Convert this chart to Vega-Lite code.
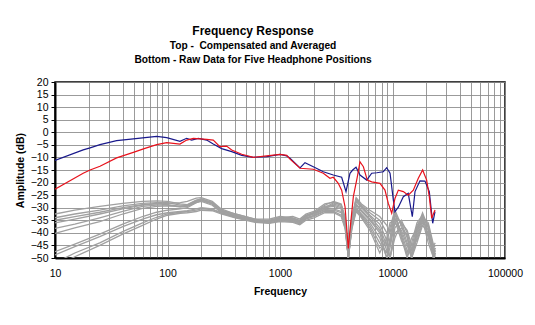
{
"$schema":"https://vega.github.io/schema/vega-lite/v6.json",
"width":450,"height":176,
"autosize":{"type":"none"},
"padding":{"left":55,"top":82,"right":30,"bottom":67},
"background":"white",
"title":{"text":"Frequency Response","subtitle":["Top -\u00a0 Compensated and Averaged","Bottom - Raw Data for Five Headphone Positions"],"anchor":"middle","dx":-27,"offset":11,"font":"Liberation Sans","fontSize":12,"fontWeight":"bold","color":"#000","subtitleFont":"Liberation Sans","subtitleFontSize":10.2,"subtitleFontWeight":"bold","subtitleColor":"#000","subtitleLineHeight":14,"subtitlePadding":3},
"config":{"view":{"stroke":"#000","strokeWidth":1.5},"axis":{"labelFont":"Liberation Sans","titleFont":"Liberation Sans","labelColor":"#000","titleColor":"#000","gridColor":"#8a8a8a","gridWidth":1,"gridOpacity":0.85,"domainColor":"#000","domainWidth":2,"tickColor":"#000","labelFontSize":10.5,"titleFontSize":10.5,"titleFontWeight":"bold"}},
"data":{"values":[
{"s":"blue","f":10,"db":-11.2},{"s":"blue","f":17.8,"db":-7.0},{"s":"blue","f":20.5,"db":-6.2},{"s":"blue","f":25.1,"db":-4.9},{"s":"blue","f":35.3,"db":-3.35},{"s":"blue","f":49.7,"db":-2.6},{"s":"blue","f":63,"db":-2.1},{"s":"blue","f":80.2,"db":-1.6},{"s":"blue","f":98.4,"db":-2.15},{"s":"blue","f":129,"db":-3.6},{"s":"blue","f":148,"db":-2.4},{"s":"blue","f":164,"db":-3.1},{"s":"blue","f":188,"db":-2.4},{"s":"blue","f":223,"db":-3.1},{"s":"blue","f":255,"db":-4.7},{"s":"blue","f":303,"db":-6.5},{"s":"blue","f":372,"db":-7.7},{"s":"blue","f":457,"db":-9.2},{"s":"blue","f":580,"db":-9.95},{"s":"blue","f":762,"db":-9.7},{"s":"blue","f":1000,"db":-8.8},{"s":"blue","f":1148,"db":-9.4},{"s":"blue","f":1227,"db":-10.35},{"s":"blue","f":1507,"db":-14.2},{"s":"blue","f":1668,"db":-12.1},{"s":"blue","f":1977,"db":-13.7},{"s":"blue","f":2427,"db":-15.7},{"s":"blue","f":2978,"db":-17.0},{"s":"blue","f":3533,"db":-17.9},{"s":"blue","f":3861,"db":-23.6},{"s":"blue","f":4188,"db":-16.3},{"s":"blue","f":4426,"db":-15.0},{"s":"blue","f":4740,"db":-13.9},{"s":"blue","f":5140,"db":-17.0},{"s":"blue","f":5900,"db":-19.0},{"s":"blue","f":6535,"db":-16.3},{"s":"blue","f":7244,"db":-16.1},{"s":"blue","f":8285,"db":-15.7},{"s":"blue","f":8880,"db":-14.1},{"s":"blue","f":9510,"db":-16.3},{"s":"blue","f":10170,"db":-26.9},{"s":"blue","f":10520,"db":-31.6},{"s":"blue","f":11270,"db":-29.8},{"s":"blue","f":12480,"db":-25.6},{"s":"blue","f":13800,"db":-24.3},{"s":"blue","f":15000,"db":-33.6},{"s":"blue","f":15850,"db":-23.6},{"s":"blue","f":17540,"db":-19.3},{"s":"blue","f":19430,"db":-19.4},{"s":"blue","f":21240,"db":-23.6},{"s":"blue","f":22760,"db":-36.2},{"s":"blue","f":23870,"db":-31.6},
{"s":"red","f":10,"db":-22.6},{"s":"red","f":17.8,"db":-16.3},{"s":"red","f":20.5,"db":-15.0},{"s":"red","f":25.1,"db":-13.5},{"s":"red","f":35.3,"db":-10.2},{"s":"red","f":49.7,"db":-8.0},{"s":"red","f":63,"db":-6.4},{"s":"red","f":80.2,"db":-4.9},{"s":"red","f":98.4,"db":-4.15},{"s":"red","f":129,"db":-4.7},{"s":"red","f":148,"db":-3.1},{"s":"red","f":170,"db":-2.4},{"s":"red","f":223,"db":-2.8},{"s":"red","f":255,"db":-3.1},{"s":"red","f":292,"db":-5.7},{"s":"red","f":335,"db":-5.5},{"s":"red","f":372,"db":-7.05},{"s":"red","f":457,"db":-8.75},{"s":"red","f":580,"db":-9.95},{"s":"red","f":762,"db":-9.4},{"s":"red","f":1000,"db":-8.75},{"s":"red","f":1148,"db":-9.2},{"s":"red","f":1227,"db":-10.7},{"s":"red","f":1507,"db":-14.3},{"s":"red","f":1977,"db":-14.7},{"s":"red","f":2427,"db":-16.3},{"s":"red","f":2780,"db":-18.3},{"s":"red","f":2978,"db":-17.9},{"s":"red","f":3296,"db":-20.3},{"s":"red","f":3533,"db":-23.0},{"s":"red","f":3785,"db":-29.6},{"s":"red","f":4047,"db":-46.2},{"s":"red","f":4188,"db":-38.9},{"s":"red","f":4487,"db":-25.6},{"s":"red","f":4867,"db":-17.7},{"s":"red","f":5140,"db":-11.7},{"s":"red","f":5510,"db":-13.7},{"s":"red","f":5970,"db":-19.0},{"s":"red","f":6535,"db":-19.7},{"s":"red","f":7740,"db":-20.3},{"s":"red","f":8570,"db":-23.0},{"s":"red","f":9180,"db":-28.3},{"s":"red","f":9840,"db":-32.2},{"s":"red","f":10520,"db":-26.3},{"s":"red","f":11270,"db":-23.0},{"s":"red","f":12480,"db":-23.6},{"s":"red","f":13800,"db":-25.0},{"s":"red","f":15310,"db":-23.0},{"s":"red","f":16960,"db":-18.3},{"s":"red","f":18530,"db":-15.0},{"s":"red","f":20120,"db":-19.0},{"s":"red","f":21240,"db":-25.6},{"s":"red","f":22300,"db":-34.2},{"s":"red","f":23870,"db":-30.9},
{"s":"g1","f":10,"db":-32.5},{"s":"g1","f":15,"db":-31},{"s":"g1","f":25,"db":-29.5},{"s":"g1","f":40,"db":-28.3},{"s":"g1","f":60,"db":-27.5},{"s":"g1","f":80,"db":-27.3},{"s":"g1","f":100,"db":-27.5},{"s":"g1","f":130,"db":-28.5},{"s":"g1","f":150,"db":-28.8},{"s":"g1","f":180,"db":-27},{"s":"g1","f":200,"db":-26.5},{"s":"g1","f":250,"db":-28},{"s":"g1","f":300,"db":-31},{"s":"g1","f":400,"db":-32.5},{"s":"g1","f":600,"db":-34.5},{"s":"g1","f":800,"db":-34.5},{"s":"g1","f":1000,"db":-33.5},{"s":"g1","f":1300,"db":-34},{"s":"g1","f":1500,"db":-35},{"s":"g1","f":1700,"db":-33},{"s":"g1","f":2000,"db":-32},{"s":"g1","f":2500,"db":-29},{"s":"g1","f":3000,"db":-27.5},{"s":"g1","f":3500,"db":-28.5},{"s":"g1","f":3800,"db":-34},{"s":"g1","f":4050,"db":-49},{"s":"g1","f":4350,"db":-34},{"s":"g1","f":4750,"db":-26},{"s":"g1","f":5300,"db":-28.5},{"s":"g1","f":6300,"db":-31},{"s":"g1","f":7700,"db":-33.5},{"s":"g1","f":8900,"db":-37},{"s":"g1","f":9500,"db":-40},{"s":"g1","f":10500,"db":-31},{"s":"g1","f":12000,"db":-37},{"s":"g1","f":13500,"db":-44},{"s":"g1","f":14800,"db":-49},{"s":"g1","f":16500,"db":-38},{"s":"g1","f":18500,"db":-32},{"s":"g1","f":20800,"db":-38},{"s":"g1","f":23200,"db":-48},{"s":"g1","f":24000,"db":-46},
{"s":"g2","f":10,"db":-34},{"s":"g2","f":15,"db":-32.5},{"s":"g2","f":25,"db":-31},{"s":"g2","f":40,"db":-29.3},{"s":"g2","f":60,"db":-28.3},{"s":"g2","f":80,"db":-28},{"s":"g2","f":100,"db":-28},{"s":"g2","f":130,"db":-29},{"s":"g2","f":150,"db":-29},{"s":"g2","f":180,"db":-27.5},{"s":"g2","f":200,"db":-27},{"s":"g2","f":250,"db":-28.5},{"s":"g2","f":300,"db":-31.5},{"s":"g2","f":400,"db":-33},{"s":"g2","f":600,"db":-35},{"s":"g2","f":800,"db":-35},{"s":"g2","f":1000,"db":-34},{"s":"g2","f":1300,"db":-34.5},{"s":"g2","f":1500,"db":-35.5},{"s":"g2","f":1700,"db":-33.5},{"s":"g2","f":2000,"db":-32.5},{"s":"g2","f":2500,"db":-30},{"s":"g2","f":3000,"db":-28},{"s":"g2","f":3500,"db":-29},{"s":"g2","f":3800,"db":-35},{"s":"g2","f":4050,"db":-50},{"s":"g2","f":4350,"db":-35},{"s":"g2","f":4750,"db":-26.5},{"s":"g2","f":5300,"db":-29},{"s":"g2","f":6300,"db":-32},{"s":"g2","f":7700,"db":-35},{"s":"g2","f":8900,"db":-40},{"s":"g2","f":9500,"db":-45},{"s":"g2","f":10500,"db":-33},{"s":"g2","f":12000,"db":-36},{"s":"g2","f":13500,"db":-42},{"s":"g2","f":14800,"db":-50},{"s":"g2","f":16500,"db":-40},{"s":"g2","f":18500,"db":-33},{"s":"g2","f":20800,"db":-37},{"s":"g2","f":23200,"db":-50},{"s":"g2","f":24000,"db":-47},
{"s":"g3","f":10,"db":-35},{"s":"g3","f":15,"db":-33.5},{"s":"g3","f":25,"db":-31.8},{"s":"g3","f":40,"db":-30},{"s":"g3","f":60,"db":-28.8},{"s":"g3","f":80,"db":-28.3},{"s":"g3","f":100,"db":-28.3},{"s":"g3","f":130,"db":-28},{"s":"g3","f":150,"db":-27.5},{"s":"g3","f":180,"db":-26.2},{"s":"g3","f":200,"db":-26},{"s":"g3","f":250,"db":-27.5},{"s":"g3","f":300,"db":-30.5},{"s":"g3","f":400,"db":-32.5},{"s":"g3","f":600,"db":-34.5},{"s":"g3","f":800,"db":-35.5},{"s":"g3","f":1000,"db":-34},{"s":"g3","f":1300,"db":-33.5},{"s":"g3","f":1500,"db":-34.5},{"s":"g3","f":1700,"db":-32.5},{"s":"g3","f":2000,"db":-31.5},{"s":"g3","f":2500,"db":-28.5},{"s":"g3","f":3000,"db":-27.8},{"s":"g3","f":3500,"db":-28.8},{"s":"g3","f":3800,"db":-34.5},{"s":"g3","f":4050,"db":-48},{"s":"g3","f":4350,"db":-33.5},{"s":"g3","f":4750,"db":-27},{"s":"g3","f":5300,"db":-29.5},{"s":"g3","f":6300,"db":-33},{"s":"g3","f":7700,"db":-36.5},{"s":"g3","f":8900,"db":-43},{"s":"g3","f":9500,"db":-50},{"s":"g3","f":10500,"db":-38},{"s":"g3","f":12000,"db":-35},{"s":"g3","f":13500,"db":-40},{"s":"g3","f":14800,"db":-47},{"s":"g3","f":16500,"db":-41},{"s":"g3","f":18500,"db":-34},{"s":"g3","f":20800,"db":-36},{"s":"g3","f":23200,"db":-45},{"s":"g3","f":24000,"db":-44},
{"s":"g4","f":10,"db":-36},{"s":"g4","f":15,"db":-34.5},{"s":"g4","f":25,"db":-32.5},{"s":"g4","f":40,"db":-30.5},{"s":"g4","f":60,"db":-29},{"s":"g4","f":80,"db":-28.5},{"s":"g4","f":100,"db":-28.8},{"s":"g4","f":130,"db":-29.5},{"s":"g4","f":150,"db":-29.5},{"s":"g4","f":180,"db":-28},{"s":"g4","f":200,"db":-27.5},{"s":"g4","f":250,"db":-29},{"s":"g4","f":300,"db":-32},{"s":"g4","f":400,"db":-33.5},{"s":"g4","f":600,"db":-35.5},{"s":"g4","f":800,"db":-35.5},{"s":"g4","f":1000,"db":-34.5},{"s":"g4","f":1300,"db":-34.8},{"s":"g4","f":1500,"db":-36},{"s":"g4","f":1700,"db":-34},{"s":"g4","f":2000,"db":-33},{"s":"g4","f":2500,"db":-30.5},{"s":"g4","f":3000,"db":-28.5},{"s":"g4","f":3500,"db":-29.5},{"s":"g4","f":3800,"db":-35.5},{"s":"g4","f":4050,"db":-50},{"s":"g4","f":4350,"db":-35.5},{"s":"g4","f":4750,"db":-27.5},{"s":"g4","f":5300,"db":-30},{"s":"g4","f":6300,"db":-33.5},{"s":"g4","f":7700,"db":-38},{"s":"g4","f":8900,"db":-45},{"s":"g4","f":9500,"db":-50},{"s":"g4","f":10500,"db":-40},{"s":"g4","f":12000,"db":-38},{"s":"g4","f":13500,"db":-41},{"s":"g4","f":14800,"db":-50},{"s":"g4","f":16500,"db":-42},{"s":"g4","f":18500,"db":-35},{"s":"g4","f":20800,"db":-39},{"s":"g4","f":23200,"db":-50},{"s":"g4","f":24000,"db":-48},
{"s":"g5","f":10,"db":-38.2},{"s":"g5","f":15,"db":-36.5},{"s":"g5","f":25,"db":-34},{"s":"g5","f":40,"db":-31.5},{"s":"g5","f":60,"db":-29.5},{"s":"g5","f":80,"db":-29},{"s":"g5","f":100,"db":-29},{"s":"g5","f":130,"db":-29.8},{"s":"g5","f":150,"db":-29.5},{"s":"g5","f":180,"db":-27.5},{"s":"g5","f":200,"db":-26.8},{"s":"g5","f":250,"db":-28.5},{"s":"g5","f":300,"db":-31.5},{"s":"g5","f":400,"db":-33},{"s":"g5","f":600,"db":-35},{"s":"g5","f":800,"db":-35},{"s":"g5","f":1000,"db":-34},{"s":"g5","f":1300,"db":-34.2},{"s":"g5","f":1500,"db":-35.2},{"s":"g5","f":1700,"db":-33},{"s":"g5","f":2000,"db":-32},{"s":"g5","f":2500,"db":-29.5},{"s":"g5","f":3000,"db":-29},{"s":"g5","f":3500,"db":-30},{"s":"g5","f":3800,"db":-36},{"s":"g5","f":4050,"db":-50},{"s":"g5","f":4350,"db":-36},{"s":"g5","f":4750,"db":-28.5},{"s":"g5","f":5300,"db":-31},{"s":"g5","f":6300,"db":-34.5},{"s":"g5","f":7700,"db":-39},{"s":"g5","f":8900,"db":-47},{"s":"g5","f":9500,"db":-50},{"s":"g5","f":10500,"db":-42},{"s":"g5","f":12000,"db":-36},{"s":"g5","f":13500,"db":-39},{"s":"g5","f":14800,"db":-45},{"s":"g5","f":16500,"db":-43},{"s":"g5","f":18500,"db":-36},{"s":"g5","f":20800,"db":-37},{"s":"g5","f":23200,"db":-46},{"s":"g5","f":24000,"db":-45},
{"s":"g6","f":10,"db":-40.2},{"s":"g6","f":15,"db":-38},{"s":"g6","f":25,"db":-35.5},{"s":"g6","f":40,"db":-32.5},{"s":"g6","f":60,"db":-30.3},{"s":"g6","f":80,"db":-29.5},{"s":"g6","f":100,"db":-29.3},{"s":"g6","f":130,"db":-29.5},{"s":"g6","f":150,"db":-29},{"s":"g6","f":180,"db":-27.2},{"s":"g6","f":200,"db":-26.5},{"s":"g6","f":250,"db":-28},{"s":"g6","f":300,"db":-31},{"s":"g6","f":400,"db":-33},{"s":"g6","f":600,"db":-35},{"s":"g6","f":800,"db":-35.5},{"s":"g6","f":1000,"db":-34.2},{"s":"g6","f":1300,"db":-34.5},{"s":"g6","f":1500,"db":-35.5},{"s":"g6","f":1700,"db":-33.2},{"s":"g6","f":2000,"db":-32.2},{"s":"g6","f":2500,"db":-30},{"s":"g6","f":3000,"db":-29.5},{"s":"g6","f":3500,"db":-30.5},{"s":"g6","f":3800,"db":-36.5},{"s":"g6","f":4050,"db":-50},{"s":"g6","f":4350,"db":-36.5},{"s":"g6","f":4750,"db":-29},{"s":"g6","f":5300,"db":-31.5},{"s":"g6","f":6300,"db":-35},{"s":"g6","f":7700,"db":-40},{"s":"g6","f":8900,"db":-50},{"s":"g6","f":9500,"db":-46},{"s":"g6","f":10500,"db":-36},{"s":"g6","f":12000,"db":-39},{"s":"g6","f":13500,"db":-45},{"s":"g6","f":14800,"db":-50},{"s":"g6","f":16500,"db":-44},{"s":"g6","f":18500,"db":-37},{"s":"g6","f":20800,"db":-40},{"s":"g6","f":23200,"db":-50},{"s":"g6","f":24000,"db":-49},
{"s":"g7","f":10,"db":-47.5},{"s":"g7","f":15,"db":-44.5},{"s":"g7","f":25,"db":-40.5},{"s":"g7","f":40,"db":-36.5},{"s":"g7","f":60,"db":-33.5},{"s":"g7","f":80,"db":-31.8},{"s":"g7","f":100,"db":-31},{"s":"g7","f":130,"db":-30.5},{"s":"g7","f":150,"db":-30},{"s":"g7","f":180,"db":-28},{"s":"g7","f":200,"db":-27.2},{"s":"g7","f":250,"db":-28.5},{"s":"g7","f":300,"db":-31.2},{"s":"g7","f":400,"db":-33.2},{"s":"g7","f":600,"db":-35.2},{"s":"g7","f":800,"db":-35.5},{"s":"g7","f":1000,"db":-34.5},{"s":"g7","f":1300,"db":-34.8},{"s":"g7","f":1500,"db":-35.8},{"s":"g7","f":1700,"db":-33.5},{"s":"g7","f":2000,"db":-32.5},{"s":"g7","f":2500,"db":-30.8},{"s":"g7","f":3000,"db":-30.5},{"s":"g7","f":3500,"db":-31.5},{"s":"g7","f":3800,"db":-37},{"s":"g7","f":4050,"db":-50},{"s":"g7","f":4350,"db":-37},{"s":"g7","f":4750,"db":-30},{"s":"g7","f":5300,"db":-32.5},{"s":"g7","f":6300,"db":-36},{"s":"g7","f":7700,"db":-42},{"s":"g7","f":8900,"db":-50},{"s":"g7","f":9500,"db":-44},{"s":"g7","f":10500,"db":-34},{"s":"g7","f":12000,"db":-40},{"s":"g7","f":13500,"db":-47},{"s":"g7","f":14800,"db":-48},{"s":"g7","f":16500,"db":-39},{"s":"g7","f":18500,"db":-33.5},{"s":"g7","f":20800,"db":-38},{"s":"g7","f":23200,"db":-47},{"s":"g7","f":24000,"db":-46},
{"s":"g8","f":10,"db":-48.8},{"s":"g8","f":15,"db":-45.5},{"s":"g8","f":25,"db":-41.5},{"s":"g8","f":40,"db":-37.5},{"s":"g8","f":60,"db":-34.5},{"s":"g8","f":80,"db":-32.8},{"s":"g8","f":100,"db":-32},{"s":"g8","f":130,"db":-31.5},{"s":"g8","f":150,"db":-31.2},{"s":"g8","f":180,"db":-30.5},{"s":"g8","f":200,"db":-30},{"s":"g8","f":250,"db":-30.5},{"s":"g8","f":300,"db":-32},{"s":"g8","f":400,"db":-33.5},{"s":"g8","f":600,"db":-35.5},{"s":"g8","f":800,"db":-36},{"s":"g8","f":1000,"db":-35},{"s":"g8","f":1300,"db":-35.2},{"s":"g8","f":1500,"db":-36.2},{"s":"g8","f":1700,"db":-34.2},{"s":"g8","f":2000,"db":-33.2},{"s":"g8","f":2500,"db":-31.2},{"s":"g8","f":3000,"db":-31},{"s":"g8","f":3500,"db":-32},{"s":"g8","f":3800,"db":-37.5},{"s":"g8","f":4050,"db":-50},{"s":"g8","f":4350,"db":-37.5},{"s":"g8","f":4750,"db":-30.5},{"s":"g8","f":5300,"db":-33},{"s":"g8","f":6300,"db":-37},{"s":"g8","f":7700,"db":-44},{"s":"g8","f":8900,"db":-48},{"s":"g8","f":9500,"db":-42},{"s":"g8","f":10500,"db":-32},{"s":"g8","f":12000,"db":-41},{"s":"g8","f":13500,"db":-49},{"s":"g8","f":14800,"db":-46},{"s":"g8","f":16500,"db":-37},{"s":"g8","f":18500,"db":-34},{"s":"g8","f":20800,"db":-41},{"s":"g8","f":23200,"db":-50},{"s":"g8","f":24000,"db":-48},
{"s":"g9","f":10,"db":-52},{"s":"g9","f":15,"db":-48},{"s":"g9","f":25,"db":-44},{"s":"g9","f":40,"db":-39.5},{"s":"g9","f":60,"db":-36},{"s":"g9","f":80,"db":-33.8},{"s":"g9","f":100,"db":-32.5},{"s":"g9","f":130,"db":-31.8},{"s":"g9","f":150,"db":-31.5},{"s":"g9","f":180,"db":-31},{"s":"g9","f":200,"db":-30.5},{"s":"g9","f":250,"db":-30.8},{"s":"g9","f":300,"db":-32.2},{"s":"g9","f":400,"db":-33.8},{"s":"g9","f":600,"db":-35.5},{"s":"g9","f":800,"db":-36},{"s":"g9","f":1000,"db":-35.2},{"s":"g9","f":1300,"db":-35.5},{"s":"g9","f":1500,"db":-36.5},{"s":"g9","f":1700,"db":-34.5},{"s":"g9","f":2000,"db":-33.5},{"s":"g9","f":2500,"db":-31.5},{"s":"g9","f":3000,"db":-31.5},{"s":"g9","f":3500,"db":-33},{"s":"g9","f":3800,"db":-38},{"s":"g9","f":4050,"db":-50},{"s":"g9","f":4350,"db":-38},{"s":"g9","f":4750,"db":-31},{"s":"g9","f":5300,"db":-33.5},{"s":"g9","f":6300,"db":-38},{"s":"g9","f":7700,"db":-46},{"s":"g9","f":8900,"db":-44},{"s":"g9","f":9500,"db":-38},{"s":"g9","f":10500,"db":-31},{"s":"g9","f":12000,"db":-42},{"s":"g9","f":13500,"db":-50},{"s":"g9","f":14800,"db":-44},{"s":"g9","f":16500,"db":-36},{"s":"g9","f":18500,"db":-33},{"s":"g9","f":20800,"db":-42},{"s":"g9","f":23200,"db":-48},{"s":"g9","f":24000,"db":-47},
{"s":"g10","f":10,"db":-53.5},{"s":"g10","f":15,"db":-49.5},{"s":"g10","f":25,"db":-45},{"s":"g10","f":40,"db":-40.5},{"s":"g10","f":60,"db":-37},{"s":"g10","f":80,"db":-34.5},{"s":"g10","f":100,"db":-33},{"s":"g10","f":130,"db":-32.2},{"s":"g10","f":150,"db":-32},{"s":"g10","f":180,"db":-31.5},{"s":"g10","f":200,"db":-31},{"s":"g10","f":250,"db":-31.2},{"s":"g10","f":300,"db":-32.5},{"s":"g10","f":400,"db":-34},{"s":"g10","f":600,"db":-35.8},{"s":"g10","f":800,"db":-36.2},{"s":"g10","f":1000,"db":-35.5},{"s":"g10","f":1300,"db":-35.8},{"s":"g10","f":1500,"db":-36.8},{"s":"g10","f":1700,"db":-35},{"s":"g10","f":2000,"db":-34},{"s":"g10","f":2500,"db":-32},{"s":"g10","f":3000,"db":-32},{"s":"g10","f":3500,"db":-33.5},{"s":"g10","f":3800,"db":-38.5},{"s":"g10","f":4050,"db":-50},{"s":"g10","f":4350,"db":-38.5},{"s":"g10","f":4750,"db":-31.5},{"s":"g10","f":5300,"db":-34},{"s":"g10","f":6300,"db":-39},{"s":"g10","f":7700,"db":-48},{"s":"g10","f":8900,"db":-42},{"s":"g10","f":9500,"db":-36},{"s":"g10","f":10500,"db":-35},{"s":"g10","f":12000,"db":-43},{"s":"g10","f":13500,"db":-48},{"s":"g10","f":14800,"db":-42},{"s":"g10","f":16500,"db":-38},{"s":"g10","f":18500,"db":-35},{"s":"g10","f":20800,"db":-44},{"s":"g10","f":23200,"db":-50},{"s":"g10","f":24000,"db":-49}
]},
"encoding":{
"x":{"field":"f","type":"quantitative","scale":{"type":"log","domain":[10,100000],"nice":false},"axis":{"title":"Frequency","values":[10,20,30,40,50,60,70,80,90,100,200,300,400,500,600,700,800,900,1000,2000,3000,4000,5000,6000,7000,8000,9000,10000,20000,30000,40000,50000,60000,70000,80000,90000,100000],"labelExpr":"indexof([10,100,1000,10000,100000], datum.value) >= 0 ? format(datum.value, 'd') : ''","tickSize":0,"labelPadding":10,"titlePadding":8,"labelFlush":false,"labelOverlap":false}},
"y":{"field":"db","type":"quantitative","scale":{"domain":[-50,20],"nice":false},"axis":{"title":"Amplitude (dB)","values":[-50,-45,-40,-35,-30,-25,-20,-15,-10,-5,0,5,10,15,20],"tickSize":4,"labelPadding":3,"titlePadding":5,"labelFlush":false,"labelOverlap":false}}
},
"layer":[
{"transform":[{"filter":"datum.s != 'blue' && datum.s != 'red'"}],"mark":{"type":"line","color":"#a0a0a0","strokeWidth":1.3,"clip":true},"encoding":{"detail":{"field":"s"}}},
{"transform":[{"filter":"datum.s == 'blue'"}],"mark":{"type":"line","color":"#1a1a8c","strokeWidth":1.2,"clip":true},"encoding":{}},
{"transform":[{"filter":"datum.s == 'red'"}],"mark":{"type":"line","color":"#e8121c","strokeWidth":1.2,"clip":true},"encoding":{}}
]
}
